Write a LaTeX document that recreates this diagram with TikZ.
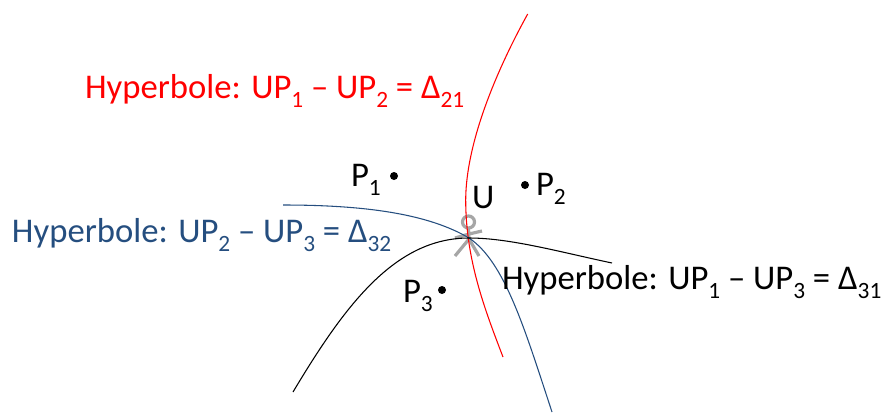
\documentclass[tikz,border=0pt]{standalone}
\usepackage{fontspec}
\setmainfont{Carlito}
\definecolor{hblue}{HTML}{254E7F}
\definecolor{hgray}{HTML}{A6A6A6}
\tikzset{
  lbl/.style={inner sep=0pt,outer sep=0pt,anchor=base west,font=\fontsize{26}{28}\selectfont},
  sensor/.style={circle,fill=black,inner sep=0pt,minimum size=6pt},
  hyp/.style={line width=0.8pt},
  stick/.style={hgray,line width=2.4pt}
}
\newcommand{\sbs}[1]{\raisebox{-0.27em}{\fontsize{17.5}{18}\selectfont #1}}
\begin{document}
\begin{tikzpicture}[x=0.75pt,y=-0.75pt]
\useasboundingbox (0,0) rectangle (882,412);
% stick figure
\draw[stick] (468.5,222) circle (6);
\draw[stick] (468.5,228) -- (469,239);
\draw[stick] (455,238) -- (469,234) -- (482,231);
\draw[stick] (455,256) -- (469,239) -- (479,256);
% curves
\draw[red,hyp] (527.7,14) .. controls (505,55) and (466,135) .. (465.7,200) .. controls (465.7,260) and (485,310) .. (503,357);
\draw[hblue,hyp] (283,205) .. controls (370,205) and (430,215) .. (469,238) .. controls (505,262) and (525,330) .. (552,412);
\draw[black,hyp] (293,392) .. controls (345,305) and (395,238) .. (469,238) .. controls (510,238) and (560,252) .. (612,263);
% sensors
\node[sensor] (d1) at (394,176) {};
\node[sensor] (d2) at (525,185) {};
\node[sensor] (d3) at (442,290) {};
% labels
\node[lbl,red] (t1) at (85,98) {Hyperbole: UP\sbs{1} – UP\sbs{2} = Δ\sbs{21}};
\node[lbl,hblue] (t2) at (12,242) {Hyperbole: UP\sbs{2} – UP\sbs{3} = Δ\sbs{32}};
\node[lbl] (t3) at (502,289) {Hyperbole: UP\sbs{1} – UP\sbs{3} = Δ\sbs{31}};
\node[lbl] (p1) at (351,186) {P\sbs{1}};
\node[lbl] (p2) at (536,195) {P\sbs{2}};
\node[lbl] (p3) at (403,302) {P\sbs{3}};
\node[lbl] (u) at (472,208) {U};
\end{tikzpicture}
\end{document}
